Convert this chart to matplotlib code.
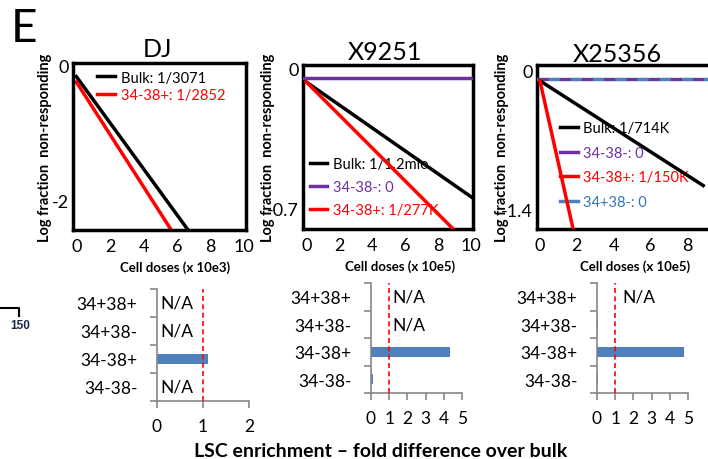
import matplotlib
matplotlib.use('Agg')
import matplotlib.pyplot as plt
from matplotlib.lines import Line2D
import numpy as np

plt.rcParams.update({
    'font.family': ['Lato', 'DejaVu Sans'],
    'axes.unicode_minus': False,
})

# --- limiting dilution lines (top row) ---
dj_bulk_x = [0, 6.65]
dj_bulk_y = [-0.17, -2.43]
dj_pos_x = [0, 5.65]
dj_pos_y = [-0.25, -2.43]

x9_neg_x = [-0.2, 10.1]
x9_neg_y = [-0.045, -0.045]
x9_bulk_x = [0, 10]
x9_bulk_y = [-0.065, -0.64]
x9_pos_x = [0, 8.9]
x9_pos_y = [-0.065, -0.8]

x25_neg_x = [-0.16, 9.5]
x25_neg_y = [-0.08, -0.08]
x25_pp_x = [-0.16, 9.5]
x25_pp_y = [-0.08, -0.08]
x25_bulk_x = [0, 8.86]
x25_bulk_y = [-0.1, -1.16]
x25_pos_x = [0, 1.8]
x25_pos_y = [-0.1, -1.6]

# --- LSC enrichment (bottom row) ---
categories = ['34+38+', '34+38-', '34-38+', '34-38-']
dj_enrich = [np.nan, np.nan, 1.1, np.nan]
x9_enrich = [np.nan, np.nan, 4.34, 0.1]
x25_enrich = [np.nan, 0.08, 4.78, 0.08]
dj_na = [True, True, False, True]
x9_na = [True, True, False, False]
x25_na = [True, False, False, False]

BLACK = '#000000'
RED = '#ff0000'
PURPLE = '#7030a0'
BLUE = '#4f81bd'
BLUE_TXT = '#2e75b6'
GRAY = '#868686'

W, H = 708, 460
fig = plt.figure(figsize=(W / 100, H / 100), dpi=100)


def px_axes(l, t, r, b):
    return fig.add_axes([l / W, 1 - b / H, (r - l) / W, (b - t) / H])


def top_panel(ax, title, xlim, ylim, yticks, xticks, xlabel, title_x, title_pad,
              xlabel_x, ylabel_x):
    for s in ax.spines.values():
        s.set_linewidth(2.5)
        s.set_color(BLACK)
    ax.set_xlim(*xlim)
    ax.set_ylim(*ylim)
    ax.set_yticks(yticks)
    ax.set_yticklabels([f'{v:g}' for v in yticks])
    ax.set_xticks(xticks)
    ax.set_xticklabels([f'{v:g}' for v in xticks])
    ax.tick_params(length=0, labelsize=13)
    ax.tick_params(axis='x', pad=6)
    ax.tick_params(axis='y', pad=3)
    ax.set_title(title, fontsize=18, pad=title_pad, x=title_x)
    ax.set_xlabel(xlabel, fontsize=9.5, fontweight='bold', x=xlabel_x, labelpad=4)
    ax.set_ylabel('Log fraction  non-responding', fontsize=10.5, fontweight='bold')
    ax.yaxis.set_label_coords(ylabel_x, 0.5)


# DJ
ax1 = px_axes(73, 64, 246, 231)
ax1.plot(dj_bulk_x, dj_bulk_y, color=BLACK, lw=2.5, label='Bulk: 1/3071')
ax1.plot(dj_pos_x, dj_pos_y, color=RED, lw=2.5, label='34-38+: 1/2852')
top_panel(ax1, 'DJ', (-0.2, 10.1), (-2.43, 0.03), [-2, 0], range(0, 11, 2),
          'Cell doses (x 10e3)', 0.49, 5, 0.59, -0.12)
leg = ax1.legend(loc='center left', bbox_to_anchor=(0.14, 0.86), frameon=False,
                 fontsize=10.5, handlelength=1.2, handletextpad=0.4,
                 labelspacing=0.25, borderpad=0, borderaxespad=0, labelcolor='linecolor')

# X9251
ax2 = px_axes(303, 66, 473, 230)
ax2.plot(x9_neg_x, x9_neg_y, color=PURPLE, lw=2.5, label='34-38-: 0', zorder=3)
ax2.plot(x9_bulk_x, x9_bulk_y, color=BLACK, lw=2.5, label='Bulk: 1/1.2mio', zorder=3)
ax2.plot(x9_pos_x, x9_pos_y, color=RED, lw=2.5, label='34-38+: 1/277K', zorder=3)
top_panel(ax2, 'X9251', (-0.2, 10.1), (-0.8, 0.02), [-0.7, 0], range(0, 11, 2),
          'Cell doses (x 10e5)', 0.48, 4, 0.57, -0.165)
h, l = ax2.get_legend_handles_labels()
order = [1, 0, 2]
leg = ax2.legend([h[i] for i in order], [l[i] for i in order], loc='center left',
                 bbox_to_anchor=(0.04, 0.256), frameon=False, fontsize=10.5,
                 handlelength=1.2, handletextpad=0.4, labelspacing=0.62,
                 borderpad=0, borderaxespad=0, labelcolor='linecolor')
leg.set_zorder(2)

# X25356
ax3 = px_axes(537, 66, 715, 230)
ax3.plot(x25_pp_x, x25_pp_y, color=BLUE, lw=2.5, label='34+38-: 0', zorder=3)
ax3.plot(x25_neg_x, x25_neg_y, color=PURPLE, lw=2.0, ls=(0, (4, 4)), label='34-38-: 0', zorder=3)
ax3.plot(x25_bulk_x, x25_bulk_y, color=BLACK, lw=2.5, label='Bulk: 1/714K', zorder=3)
ax3.plot(x25_pos_x, x25_pos_y, color=RED, lw=2.5, label='34-38+: 1/150K', zorder=3)
top_panel(ax3, 'X25356', (-0.16, 9.5), (-1.6, 0.06), [-1.4, 0], range(0, 9, 2),
          'Cell doses (x 10e5)', 0.45, 2, 0.55, -0.16)
leg_handles = [Line2D([], [], color=BLACK, lw=2.5), Line2D([], [], color=PURPLE, lw=2.5),
               Line2D([], [], color=RED, lw=2.5), Line2D([], [], color=BLUE, lw=2.5)]
leg = ax3.legend(leg_handles, ['Bulk: 1/714K', '34-38-: 0', '34-38+: 1/150K', '34+38-: 0'],
                 loc='center left', bbox_to_anchor=(0.13, 0.39), frameon=False, fontsize=10.5,
                 handlelength=1.2, handletextpad=0.4, labelspacing=0.72,
                 borderpad=0, borderaxespad=0)
for txt, c in zip(leg.get_texts(), [BLACK, PURPLE, RED, BLUE_TXT]):
    txt.set_color(c)
leg.set_zorder(2)


def bar_panel(ax, values, na_flags, xmax, na_x, bar_h):
    y = np.arange(len(categories))
    ax.barh(y, np.nan_to_num(values), height=bar_h, color=BLUE, zorder=2)
    ax.axvline(1, color=RED, lw=1.2, ls=(0, (3, 2)), zorder=3)
    for yi, na in zip(y, na_flags):
        if na:
            ax.text(na_x, yi, 'N/A', ha='left', va='center', fontsize=12.5)
    ax.set_xlim(0, xmax)
    ax.set_ylim(len(categories) - 0.5, -0.5)
    ax.set_yticks(np.arange(-0.5, len(categories)))
    ax.set_yticklabels([])
    ax.set_yticks(y, minor=True)
    ax.set_yticklabels(categories, minor=True, fontsize=12.5)
    ax.tick_params(axis='y', which='minor', length=0, pad=14)
    ax.tick_params(axis='y', which='major', length=5, width=1.2, color=GRAY)
    ax.set_xticks(range(0, xmax + 1))
    ax.tick_params(axis='x', length=5, width=1.2, color=GRAY, labelsize=12.5, pad=7)
    for s in ['top', 'right']:
        ax.spines[s].set_visible(False)
    for s in ['left', 'bottom']:
        ax.spines[s].set_color(GRAY)
        ax.spines[s].set_linewidth(1.2)


b1 = px_axes(157, 290, 249, 402)
bar_panel(b1, dj_enrich, dj_na, 2, 0.07, 0.33)
b2 = px_axes(371, 284, 462, 394)
bar_panel(b2, x9_enrich, x9_na, 5, 1.2, 0.38)
b3 = px_axes(597, 284, 688, 394)
bar_panel(b3, x25_enrich, x25_na, 5, 1.37, 0.38)

fig.text(381 / W, 1 - 452 / H, 'LSC enrichment \u2013 fold difference over bulk',
         ha='center', va='center', fontsize=14, fontweight='bold')
fig.text(11 / W, 1 - 29 / H, 'E', ha='left', va='center', fontsize=33)

# stray fragment at left edge
fig.add_artist(Line2D([0, 19 / W, 19 / W], [1 - 309 / H, 1 - 309 / H, 1 - 317 / H],
                      color=BLACK, lw=1.5))
fig.text(20 / W, 1 - 326 / H, '150', ha='center', va='center', fontsize=8.5,
         fontweight='bold', color='#1a2a4a', family=['Liberation Sans Narrow', 'Liberation Sans'])

fig.savefig('out.png', dpi=100)
